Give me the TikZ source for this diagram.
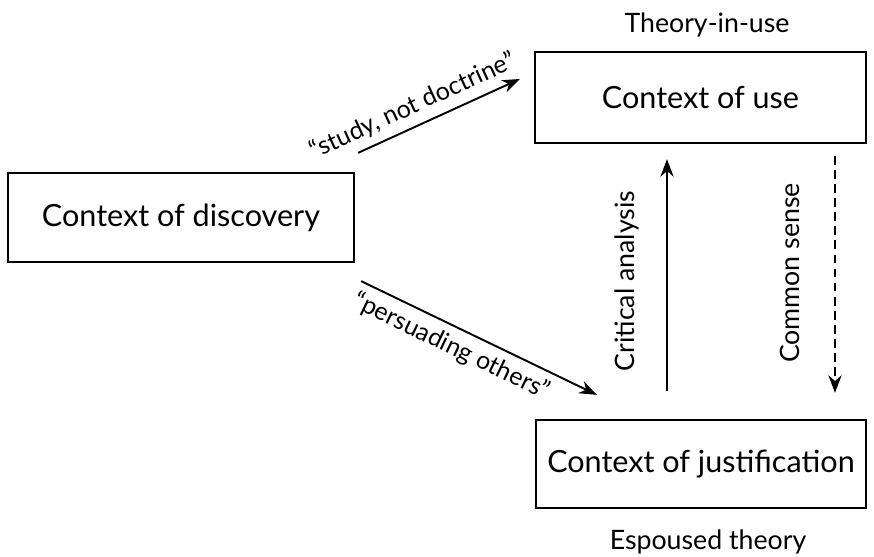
\documentclass[tikz,border=0pt]{standalone}
\usepackage{fontspec}
\setmainfont{Lato}
\usetikzlibrary{arrows.meta,positioning}

\begin{document}
\begin{tikzpicture}[
    ctxbox/.style={draw,line width=1.3pt,minimum width=#1,minimum height=1.78cm,font=\fontsize{17.4}{20}\selectfont},
    ctxbox/.default=6.6cm,
    arr/.style={line width=1.1pt,-{Stealth[length=10pt,width=7.5pt]}},
    lbl/.style={font=\fontsize{15.2}{18}\selectfont},
    slbl/.style={font=\fontsize{14.2}{17}\selectfont,sloped,inner sep=4pt}
  ]
  \useasboundingbox (0,0) rectangle (17.48,11.14);

  % Boxes
  \node[ctxbox=6.92cm] (disc) at (3.62,6.79) {Context of discovery};
  \node[ctxbox=6.62cm,minimum height=1.82cm] (use) at (14.01,9.19) {Context of use};
  \node[ctxbox=6.6cm,minimum height=1.76cm] (just) at (14.02,1.86) {Context of justification};

  % Theory labels
  \node[lbl,anchor=base] (tiu) at (14.14,10.48) {Theory-in-use};
  \node[lbl,anchor=base] (esp) at (14.16,0.14) {Espoused theory};

  % Diagonal arrows
  \draw[arr] ([shift={(0.06,0.38)}]disc.north east) -- node[slbl,above,pos=0.39] {``study, not doctrine''} ([shift={(-0.28,0.37)}]use.west);
  \draw[arr] ([shift={(0.12,-0.36)}]disc.south east) -- node[slbl,below,pos=0.42] {``persuading others''} ([shift={(1.24,0.48)}]just.north west);

  % Vertical arrows
  \node[lbl,rotate=90] (crit) at (12.54,5.52) {Critical analysis};
  \node[lbl,rotate=90] (comm) at (15.8,5.68) {Common sense};
  \draw[arr] ([shift={(-0.68,0.56)}]just.north) -- ([shift={(-0.67,-0.3)}]use.south);
  \draw[arr,dash pattern=on 5pt off 3pt] ([shift={(2.69,-0.24)}]use.south) -- ([shift={(2.68,0.52)}]just.north);
\end{tikzpicture}
\end{document}
